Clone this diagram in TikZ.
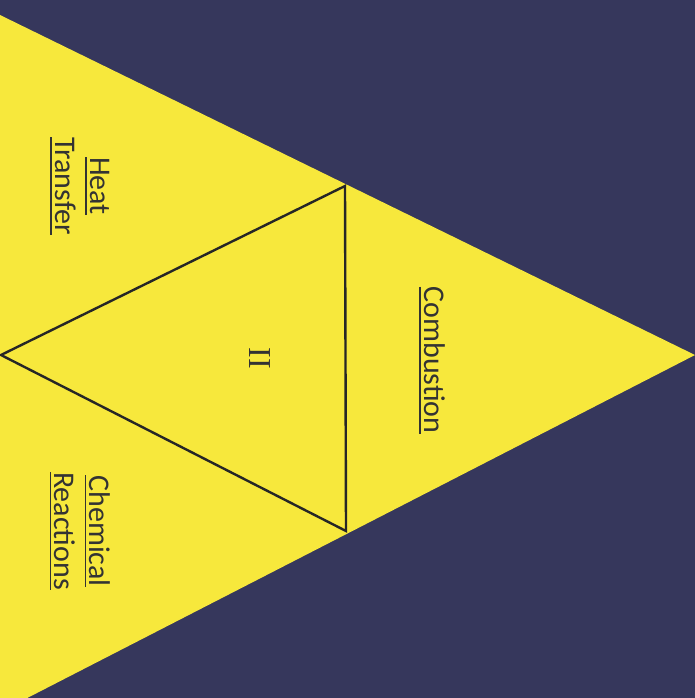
\documentclass[tikz,border=0pt]{standalone}
\usepackage{fontspec}
\setmainfont{Carlito}
\newfontfamily\numfont{Liberation Serif}
\usepackage{xcolor}
\definecolor{navy}{RGB}{54,55,92}
\definecolor{lemon}{RGB}{247,232,60}
\newcommand{\lineunder}[1]{\setbox0\hbox{#1}\leavevmode\rlap{\rule[-5pt]{\wd0}{1.6pt}}\box0}

\begin{document}
\begin{tikzpicture}[x=1pt,y=-1pt]
\useasboundingbox (0,0) rectangle (695,698);
\fill[navy] (0,0) rectangle (695,698);
\coordinate (A) at (695,355);
\coordinate (B) at (0,15);
\coordinate (C) at (0,712);
\coordinate (T) at (345,186);
\coordinate (U) at (346,531);
\coordinate (L) at (1,355);
\fill[lemon] (B) -- (A) -- (C) -- cycle;
\draw[line width=2.4pt,black!85] (T) -- (U) -- (L) -- cycle;
\node[rotate=-90,font=\fontsize{30}{35}\selectfont,text=black!80] (comb) at (432,360) {\lineunder{Combustion}};
\node[rotate=-90,font=\fontsize{30}{35}\selectfont,text=black!80,align=center] (heat) at (80,186) {\lineunder{Heat}\\\lineunder{Transfer}};
\node[rotate=-90,font=\fontsize{30}{35}\selectfont,text=black!80,align=center] (chem) at (80,531) {\lineunder{Chemical}\\\lineunder{Reactions}};
\node[rotate=-90,font=\numfont\fontsize{32}{35}\selectfont,text=black!80] (two) at (260,358) {II};
\end{tikzpicture}
\end{document}
